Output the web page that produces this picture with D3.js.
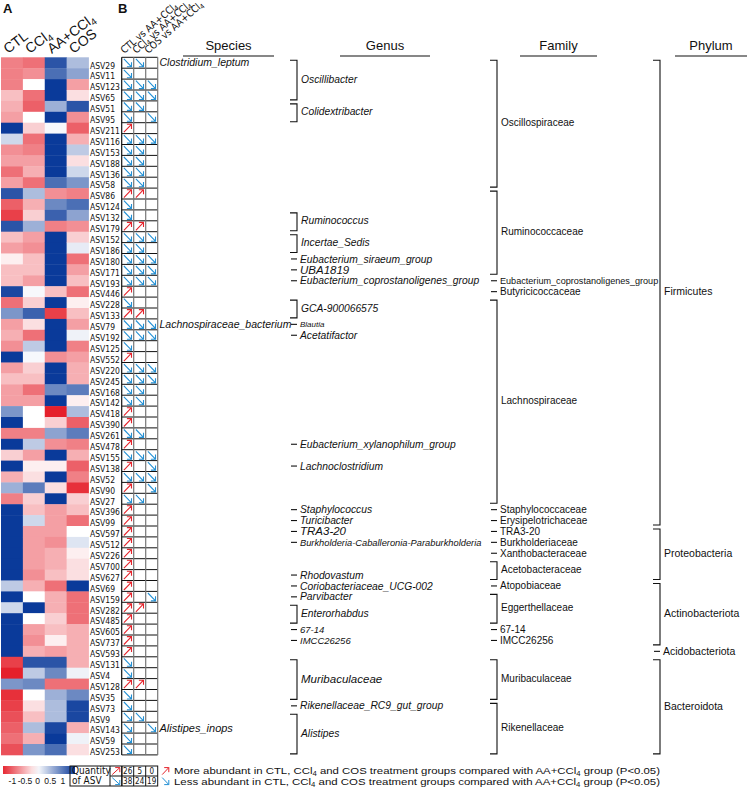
<!DOCTYPE html>
<html>
<head>
<meta charset="utf-8">
<script src="https://cdn.jsdelivr.net/npm/d3@7"></script>
<style>
body { margin: 0; background: #fff; }
svg text { font-family: "Liberation Sans", Arial, sans-serif; fill: #111; }
svg text.narrow { font-family: "Liberation Sans Narrow", "Arial Narrow", "DejaVu Sans Condensed", sans-serif; }
</style>
</head>
<body>
<svg id="chart" width="747" height="790"></svg>
<script>
var asvLabels = ['ASV29','ASV11','ASV123','ASV65','ASV51','ASV95','ASV211','ASV116','ASV153','ASV188','ASV136','ASV58',
    'ASV86','ASV124','ASV132','ASV179','ASV152','ASV186','ASV180','ASV171','ASV193','ASV446','ASV228','ASV133',
    'ASV79','ASV192','ASV125','ASV552','ASV220','ASV245','ASV168','ASV142','ASV418','ASV390','ASV261','ASV478',
    'ASV155','ASV138','ASV52','ASV90','ASV27','ASV396','ASV99','ASV597','ASV512','ASV226','ASV700','ASV627',
    'ASV69','ASV159','ASV282','ASV485','ASV605','ASV737','ASV593','ASV131','ASV4','ASV128','ASV35','ASV73',
    'ASV9','ASV143','ASV59','ASV253'];

var groups = ['CTL', 'CCl4', 'AA+CCl4', 'COS'];

// z-scores (red = low, blue = high)
var ctlValues = [-0.8,-0.8,-0.8,-0.4,-0.5,-0.6,1.5,0.3,-0.7,-0.6,-0.9,-0.6,
    1.3,-1.0,-1.2,1.3,-0.4,-0.6,-0.1,-0.4,-0.4,1.4,-0.9,0.8,
    -0.6,-0.5,-0.7,1.5,-0.6,-0.4,-0.6,-0.6,0.8,1.5,-0.8,1.5,
    -0.3,1.5,-0.5,0.6,-0.8,1.5,1.5,1.5,1.5,1.5,1.5,1.5,
    0.4,1.5,0.3,1.5,1.5,1.5,1.5,-1.2,-1.4,0.8,-1.3,-1.2,
    -1.1,-1.0,-0.9,-1.1];
var ccl4Values = [-0.9,-0.7,0,-0.9,-1.0,0,-0.3,-0.9,-0.8,-0.6,-0.5,-0.9,
    0.5,-0.5,-0.3,0.6,-0.6,-0.7,-0.4,-0.4,-0.6,0.05,-0.3,1.2,
    -0.2,-0.9,0.4,0.05,-0.3,-0.4,-0.9,-0.6,0,0,-0.8,0.4,
    -0.6,-0.1,-0.2,1.0,-0.3,-0.4,0.3,-0.6,-0.6,-0.6,-0.6,-0.7,
    -0.5,0,1.5,0,-0.6,-0.7,-0.5,1.3,0.4,0.9,0,-0.2,
    -0.4,0.5,-0.5,0.8];
var aaValues = [1.3,1.1,1.5,1.5,0.6,1.5,0.05,1.5,1.5,1.5,1.5,1.1,
    -0.7,0.9,1.2,-0.8,1.5,1.5,1.5,1.5,1.5,-0.4,1.5,-1.2,
    1.5,1.5,1.5,-0.7,1.5,1.5,0.9,1.5,-1.4,-0.3,0.7,-0.7,
    1.5,-0.1,1.5,-0.2,1.5,-0.6,-0.6,-0.6,-0.7,-0.5,-0.5,-0.4,
    -0.9,-0.5,-0.5,-0.3,-0.4,-0.1,-0.6,1.3,0.9,-0.9,0.6,0.5,
    0.5,1.4,1.5,1.1];
var cosValues = [0.5,0.7,-0.6,-0.2,1.3,-0.7,-1.0,-0.5,0.4,-0.2,0.3,0.8,
    -0.8,1.1,0.7,-0.7,-0.3,0.15,-0.9,-0.6,-0.4,-0.9,-0.1,-0.4,
    -0.6,0.1,-0.8,-0.6,-0.5,-0.5,1.0,-0.1,0.5,-1.0,1.0,-0.8,
    -0.5,-1.0,-0.8,-1.3,-0.3,-0.4,-0.9,0,0.2,-0.1,-0.2,-0.2,
    1.5,-0.9,-0.9,-0.9,-0.5,-0.5,-0.5,-0.5,0.1,-0.9,0.9,1.4,
    1.4,-0.5,0.1,-0.2];

var comparisons = ['CTL vs AA+CCl4', 'CCl4 vs AA+CCl4', 'COS vs AA+CCl4'];
// u = more abundant, d = less abundant, - = no difference
var ctlVsAA  = ('ddddddudddddu' + 'ddudddddududd' + 'dudddduududud' + 'uduuuuuuuuuuu' + 'uuuddudddddd').split('');
var ccl4VsAA = ('d-ddd--dddddu' + '--uddddd--udd' + '--dddd--d-d-d' + '-d---------u-' + '-----u--d---').split('');
var cosVsAA  = ('--dd-d-d-----' + '---d-ddd---dd' + '--dd------ddd' + 'd---------d--' + '---------d--').split('');

var speciesLabels = [['Clostridium_leptum', 0], ['Lachnospiraceae_bacterium', 24], ['Alistipes_inops', 61]];

var genusGroups = [
    ['Oscillibacter', 0, 3], ['Colidextribacter', 4, 5], ['Ruminococcus', 14, 15], ['Incertae_Sedis', 16, 17],
    ['Eubacterium_siraeum_group', 18, 18], ['UBA1819', 19, 19], ['Eubacterium_coprostanoligenes_group', 20, 20],
    ['GCA-900066575', 22, 23], ['Blautia', 24, 24], ['Acetatifactor', 25, 25],
    ['Eubacterium_xylanophilum_group', 35, 35], ['Lachnoclostridium', 37, 37],
    ['Staphylococcus', 41, 41], ['Turicibacter', 42, 42], ['TRA3-20', 43, 43],
    ['Burkholderia-Caballeronia-Paraburkholderia', 44, 44], ['Rhodovastum', 47, 47],
    ['Coriobacteriaceae_UCG-002', 48, 48], ['Parvibacter', 49, 49], ['Enterorhabdus', 50, 51],
    ['67-14', 52, 52], ['IMCC26256', 53, 53], ['Muribaculaceae', 55, 58],
    ['Rikenellaceae_RC9_gut_group', 59, 59], ['Alistipes', 60, 63]
];
var familyGroups = [
    ['Oscillospiraceae', 0, 11], ['Ruminococcaceae', 12, 19], ['Eubacterium_coprostanoligenes_group', 20, 20],
    ['Butyricicoccaceae', 21, 21], ['Lachnospiraceae', 22, 40], ['Staphylococcaceae', 41, 41],
    ['Erysipelotrichaceae', 42, 42], ['TRA3-20', 43, 43], ['Burkholderiaceae', 44, 44],
    ['Xanthobacteraceae', 45, 45], ['Acetobacteraceae', 46, 47], ['Atopobiaceae', 48, 48],
    ['Eggerthellaceae', 49, 51], ['67-14', 52, 52], ['IMCC26256', 53, 53],
    ['Muribaculaceae', 55, 58], ['Rikenellaceae', 59, 63]
];
var phylumGroups = [
    ['Firmicutes', 0, 42], ['Proteobacteria', 43, 47], ['Actinobacteriota', 48, 53],
    ['Acidobacteriota', 54, 54], ['Bacteroidota', 55, 63]
];
var columnTitles = ['Species', 'Genus', 'Family', 'Phylum'];

var upCounts = [26, 5, 0];
var downCounts = [38, 24, 19];
var colorTicks = [-1, -0.5, 0, 0.5, 1];

var RED = '#e5232b';
var BLUE = '#2490d4';

var svg = d3.select('#chart');

// helper: text with the "4" of CCl4 set small and lowered
function richText(sel, str, fontSize) {
    var shift = fontSize * 0.2;
    var parts = str.split('CCl4');
    var pending = 0;
    parts.forEach(function (p, i) {
        if (p) {
            sel.append('tspan').attr('dy', pending ? -pending : null).text(p);
            pending = 0;
        }
        if (i < parts.length - 1) {
            sel.append('tspan').attr('dy', pending ? -pending : null).text('CCl');
            sel.append('tspan').attr('font-size', fontSize * 0.68).attr('dy', shift).text('4');
            pending = shift;
        }
    });
}

var y = d3.scaleBand().domain(d3.range(asvLabels.length)).range([57.3, 754.9]);
var rowH = y.bandwidth();
var xHeat = d3.scaleBand().domain(groups).range([1, 88.5]);
var xCmp = d3.scaleBand().domain(comparisons).range([121.7, 157.7]);
var color = d3.scaleLinear().domain([-1.5, 0, 1.5]).range(['#e3101c', '#ffffff', '#0a3a9a']).clamp(true);

// ---- panel A: heatmap
var heatColumns = [ctlValues, ccl4Values, aaValues, cosValues];
var cells = [];
groups.forEach(function (g, j) {
    heatColumns[j].forEach(function (v, i) { cells.push({ g: g, i: i, v: v }); });
});
svg.append('g').selectAll('rect')
    .data(cells)
    .join('rect')
    .attr('x', d => xHeat(d.g))
    .attr('y', d => y(d.i))
    .attr('width', xHeat.bandwidth() + 0.4)
    .attr('height', rowH + 0.4)
    .attr('fill', d => color(d.v));

groups.forEach(function (g) {
    var t = svg.append('text')
        .attr('transform', 'translate(' + (xHeat(g) + xHeat.bandwidth() / 2 - 4) + ',54) rotate(-37)')
        .attr('font-size', 14);
    richText(t, g, 14);
});

svg.append('g').selectAll('text')
    .data(asvLabels)
    .join('text')
    .attr('class', 'narrow')
    .attr('x', 90)
    .attr('y', (d, i) => y(i) + rowH + 0.3)
    .attr('font-size', 8.5)
    .text(d => d);

svg.append('text').attr('x', 3).attr('y', 13).attr('font-size', 13).attr('font-weight', 'bold').text('A');
svg.append('text').attr('x', 118).attr('y', 13).attr('font-size', 13).attr('font-weight', 'bold').text('B');

// ---- panel B: arrow grid
comparisons.forEach(function (c) {
    var t = svg.append('text')
        .attr('class', 'narrow')
        .attr('transform', 'translate(' + (xCmp(c) + 2.5) + ',54) rotate(-41)')
        .attr('font-size', 10);
    richText(t, c, 10);
});

function arrowPath(x0, y0, w, h, dir) {
    if (dir === 'u') {
        var ex = x0 + w - 2.2, ey = y0 + 1.6;
        return 'M' + (x0 + 2.2) + ',' + (y0 + h - 1.4) + 'L' + ex + ',' + ey +
            'M' + (ex - 4.6) + ',' + ey + 'L' + ex + ',' + ey + 'L' + ex + ',' + (ey + 4.6);
    }
    var ex2 = x0 + w - 2.2, ey2 = y0 + h - 1.4;
    return 'M' + (x0 + 2.2) + ',' + (y0 + 1.6) + 'L' + ex2 + ',' + ey2 +
        'M' + (ex2 - 4.6) + ',' + ey2 + 'L' + ex2 + ',' + ey2 + 'L' + ex2 + ',' + (ey2 - 4.6);
}

var cmpCodes = [ctlVsAA, ccl4VsAA, cosVsAA];
var arrows = [];
comparisons.forEach(function (c, j) {
    cmpCodes[j].forEach(function (code, i) {
        if (code === 'u' || code === 'd') arrows.push({ c: c, i: i, code: code });
    });
});
svg.append('g').selectAll('path')
    .data(arrows)
    .join('path')
    .attr('d', d => arrowPath(xCmp(d.c), y(d.i), xCmp.bandwidth(), rowH, d.code))
    .attr('fill', 'none')
    .attr('stroke', d => d.code === 'u' ? RED : BLUE)
    .attr('stroke-width', 1.1);

var gridG = svg.append('g');
gridG.selectAll('line.h')
    .data(d3.range(asvLabels.length + 1))
    .join('line')
    .attr('class', 'h')
    .attr('x1', xCmp.range()[0]).attr('x2', xCmp.range()[1])
    .attr('y1', i => i < asvLabels.length ? y(i) : y.range()[1])
    .attr('y2', i => i < asvLabels.length ? y(i) : y.range()[1])
    .attr('stroke', '#111').attr('stroke-width', 1);
gridG.selectAll('line.v')
    .data(comparisons.map(c => xCmp(c)).concat([xCmp.range()[1]]))
    .join('line')
    .attr('class', 'v')
    .attr('x1', d => d).attr('x2', d => d)
    .attr('y1', y.range()[0]).attr('y2', y.range()[1])
    .attr('stroke', (d, i) => i === 0 ? '#111' : '#777').attr('stroke-width', 1.2);

// ---- taxonomy columns
var titleX = [[183, 274], [340, 430], [520, 597], [675, 747]];
columnTitles.forEach(function (t, i) {
    svg.append('text')
        .attr('x', (titleX[i][0] + titleX[i][1]) / 2)
        .attr('y', 50)
        .attr('text-anchor', 'middle')
        .attr('font-size', 13)
        .text(t);
    svg.append('line')
        .attr('x1', titleX[i][0]).attr('x2', titleX[i][1])
        .attr('y1', 56).attr('y2', 56)
        .attr('stroke', '#111').attr('stroke-width', 1.2);
});

svg.append('g').selectAll('text')
    .data(speciesLabels)
    .join('text')
    .attr('x', 159.5)
    .attr('y', d => y(d[1]) + rowH / 2)
    .attr('dy', '0.35em')
    .attr('font-size', d => d[1] === 61 ? 11 : 10.5)
    .attr('font-style', 'italic')
    .text(d => d[0]);

function drawBrackets(data, xLine, labelX, sizeOf, italic) {
    var g = svg.append('g');
    g.selectAll('path')
        .data(data)
        .join('path')
        .attr('d', function (d) {
            if (d[1] === d[2]) {
                var yc = y(d[1]) + rowH / 2;
                return 'M' + (xLine - 6) + ',' + yc + 'L' + xLine + ',' + yc;
            }
            var top = y(d[1]) + 3, bot = y(d[2]) + rowH - 1;
            return 'M' + (xLine - 7) + ',' + top + 'L' + xLine + ',' + top +
                'L' + xLine + ',' + bot + 'L' + (xLine - 7) + ',' + bot;
        })
        .attr('fill', 'none')
        .attr('stroke', '#111')
        .attr('stroke-width', 1.1);
    g.selectAll('text')
        .data(data)
        .join('text')
        .attr('x', d => d[1] === d[2] ? labelX - 1 : labelX)
        .attr('y', d => (y(d[1]) + y(d[2]) + rowH) / 2)
        .attr('dy', '0.35em')
        .attr('font-size', d => sizeOf(d[0]))
        .attr('font-style', italic ? 'italic' : null)
        .text(d => d[0]);
}

var bigGenus = ['UBA1819', 'TRA3-20', 'Muribaculaceae'];
drawBrackets(genusGroups, 297, 301, function (n) {
    if (bigGenus.indexOf(n) >= 0) return 11.5;
    if (n === 'Blautia') return 8;
    if (n === '67-14' || n === 'IMCC26256') return 9.5;
    if (n.indexOf('Burkholderia') === 0) return 9.3;
    return 10.3;
}, true);
drawBrackets(familyGroups, 497, 501, n => n.length > 30 ? 9.1 : 10, false);
drawBrackets(phylumGroups, 660, 664, () => 10.5, false);

// ---- colour key
var defs = svg.append('defs');
var grad = defs.append('linearGradient').attr('id', 'heatGrad');
var keyScale = d3.scaleLinear().domain([-1.35, 1.5]).range([3, 75]);
d3.range(0, 1.0001, 0.1).forEach(function (t) {
    var v = keyScale.domain()[0] + t * (keyScale.domain()[1] - keyScale.domain()[0]);
    grad.append('stop').attr('offset', t).attr('stop-color', color(v));
});
svg.append('rect')
    .attr('x', keyScale.range()[0]).attr('y', 766)
    .attr('width', keyScale.range()[1] - keyScale.range()[0]).attr('height', 8)
    .attr('fill', 'url(#heatGrad)');
var keyAxis = svg.append('g')
    .attr('transform', 'translate(0,774)')
    .call(d3.axisBottom(keyScale).tickValues(colorTicks).tickSize(0).tickPadding(3.5).tickFormat(d => String(d)));
keyAxis.select('.domain').remove();
keyAxis.selectAll('text')
    .attr('class', 'narrow')
    .attr('font-size', 8.5)
    .attr('fill', '#111')
    .style('font-family', '"Liberation Sans Narrow", "Arial Narrow", sans-serif');

// ---- quantity table
var tab = svg.append('g');
var tTop = 766, tRow = 10;
tab.append('rect').attr('x', 70).attr('y', tTop).attr('width', xCmp.range()[1] - 70).attr('height', tRow * 2)
    .attr('fill', 'none').attr('stroke', '#111');
tab.append('line').attr('x1', 110).attr('x2', xCmp.range()[1]).attr('y1', tTop + tRow).attr('y2', tTop + tRow)
    .attr('stroke', '#111');
[110, 122].concat(comparisons.map(c => xCmp(c))).forEach(function (x) {
    tab.append('line').attr('x1', x).attr('x2', x).attr('y1', tTop).attr('y2', tTop + tRow * 2).attr('stroke', '#111');
});
tab.append('text').attr('class', 'narrow').attr('x', 72).attr('y', tTop + 8.3).attr('font-size', 10).text('Quantity');
tab.append('text').attr('class', 'narrow').attr('x', 72).attr('y', tTop + 18.3).attr('font-size', 10).text('of ASV');
tab.append('path').attr('d', arrowPath(110, tTop, 12, tRow, 'u')).attr('fill', 'none').attr('stroke', RED);
tab.append('path').attr('d', arrowPath(110, tTop + tRow, 12, tRow, 'd')).attr('fill', 'none').attr('stroke', BLUE);
tab.selectAll('text.up')
    .data(upCounts)
    .join('text')
    .attr('class', 'up narrow')
    .attr('x', (d, i) => xCmp(comparisons[i]) + xCmp.bandwidth() / 2)
    .attr('y', tTop + 7.8)
    .attr('text-anchor', 'middle')
    .attr('font-size', 8)
    .text(d => d);
tab.selectAll('text.down')
    .data(downCounts)
    .join('text')
    .attr('class', 'down narrow')
    .attr('x', (d, i) => xCmp(comparisons[i]) + xCmp.bandwidth() / 2)
    .attr('y', tTop + tRow + 7.8)
    .attr('text-anchor', 'middle')
    .attr('font-size', 8)
    .text(d => d);

tab.append('path').attr('d', arrowPath(160, tTop, 11, tRow, 'u')).attr('fill', 'none').attr('stroke', RED);
tab.append('path').attr('d', arrowPath(160, tTop + tRow, 11, tRow, 'd')).attr('fill', 'none').attr('stroke', BLUE);
var t1 = tab.append('text').attr('x', 174).attr('y', tTop + 8.3).attr('font-size', 9.8)
    .attr('textLength', 486).attr('lengthAdjust', 'spacingAndGlyphs');
richText(t1, 'More abundant in CTL, CCl4 and COS treatment groups compared with AA+CCl4 group (P<0.05)', 9.8);
var t2 = tab.append('text').attr('x', 174).attr('y', tTop + tRow + 8.6).attr('font-size', 9.8)
    .attr('textLength', 486).attr('lengthAdjust', 'spacingAndGlyphs');
richText(t2, 'Less abundant in CTL, CCl4 and COS treatment groups compared with AA+CCl4 group (P<0.05)', 9.8);
</script>
</body>
</html>
